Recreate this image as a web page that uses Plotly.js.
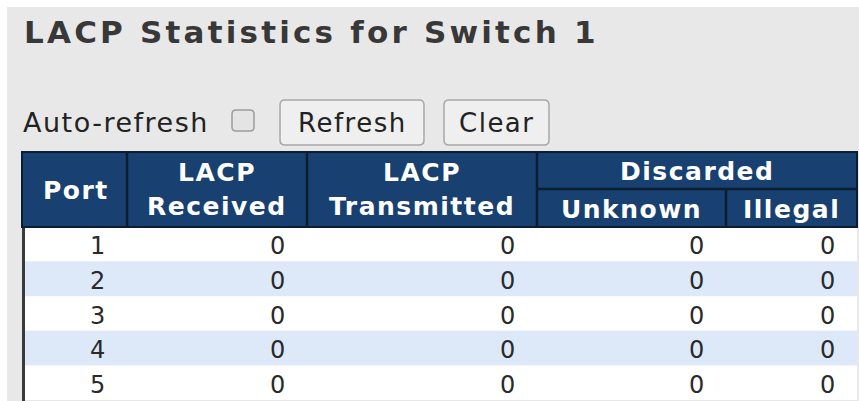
<!DOCTYPE html>
<html>
<head>
<meta charset="utf-8">
<script src="https://cdn.plot.ly/plotly-3.0.1.min.js"></script>
<style>
html,body{margin:0;padding:0;background:#ffffff;}
#chart{width:859px;height:401px;}
.annotation-text{letter-spacing:1.5px;}
.gtitle{letter-spacing:3.2px;}
</style>
</head>
<body>
<div id="chart"></div>
<script>
// ---- content ----
const pageTitle = "LACP Statistics for Switch 1";
const autoRefreshLabel = "Auto-refresh";
const buttonLabels = ["Refresh", "Clear"];
const groupHeader = "Discarded";
const headerTop = ["", "LACP", "LACP", "", ""];
const headerBottom = ["Port", "Received", "Transmitted", "Unknown", "Illegal"];

const ports = [1, 2, 3, 4, 5];
const lacpReceived = [0, 0, 0, 0, 0];
const lacpTransmitted = [0, 0, 0, 0, 0];
const discardedUnknown = [0, 0, 0, 0, 0];
const discardedIllegal = [0, 0, 0, 0, 0];

// ---- geometry / style (pixel-space axes) ----
const W = 859, H = 401;
const colEdges = [25, 127, 307, 537, 726, 857];
const tableLeft = 22;
const hTop = 152, hMid = 189, hBot = 227;
const rowH = 34.6;
const navy = "#184070", divider = "#0c1c31";
const rowFills = ["#ffffff", "#dde9f9"];
const fontSans = "DejaVu Sans, Verdana, sans-serif";

function rr(x0, y0, x1, y1, r) {
  return `M${x0 + r},${y0} L${x1 - r},${y0} Q${x1},${y0} ${x1},${y0 + r} L${x1},${y1 - r} Q${x1},${y1} ${x1 - r},${y1} L${x0 + r},${y1} Q${x0},${y1} ${x0},${y1 - r} L${x0},${y0 + r} Q${x0},${y0} ${x0 + r},${y0} Z`;
}

const shapes = [];
const annotations = [];

// page background
shapes.push({type: "rect", xref: "x", yref: "y", x0: 7, x1: W, y0: 7, y1: H,
  fillcolor: "#e8e8e8", line: {width: 0}, layer: "below"});

// checkbox
shapes.push({type: "path", xref: "x", yref: "y", path: rr(232, 110, 254, 131, 4),
  fillcolor: "#e4e4e4", line: {color: "#9c9c9c", width: 1.5}});

// buttons
const buttonBoxes = [[280, 424], [444, 549]];
buttonLabels.forEach((lab, i) => {
  const [bx0, bx1] = buttonBoxes[i];
  shapes.push({type: "path", xref: "x", yref: "y", path: rr(bx0, 100, bx1, 145, 5),
    fillcolor: "#efefef", line: {color: "#a8a8a8", width: 1.5}});
  annotations.push({xref: "x", yref: "y", x: (bx0 + bx1) / 2, y: 123, text: lab,
    showarrow: false, xanchor: "center", yanchor: "middle",
    font: {family: fontSans, size: 26, color: "#222222"}});
});

annotations.push({xref: "x", yref: "y", x: 21, y: 122, text: autoRefreshLabel,
  showarrow: false, xanchor: "left", yanchor: "middle",
  font: {family: fontSans, size: 27, color: "#222222"}});

// body rows
const columns = [ports, lacpReceived, lacpTransmitted, discardedUnknown, discardedIllegal];
ports.forEach((p, r) => {
  const y0 = hBot + r * rowH, y1 = y0 + rowH;
  shapes.push({type: "rect", xref: "x", yref: "y", x0: colEdges[0], x1: colEdges[colEdges.length - 1],
    y0: y0, y1: y1, fillcolor: rowFills[r % 2], line: {width: 0}});
  columns.forEach((col, c) => {
    annotations.push({xref: "x", yref: "y", x: colEdges[c + 1] - 18, y: (y0 + y1) / 2 + 2,
      text: String(col[r]), showarrow: false, xanchor: "right", yanchor: "middle",
      font: {family: fontSans, size: 24, color: "#2a2a2a"}});
  });
});

// left border of table
shapes.push({type: "rect", xref: "x", yref: "y", x0: tableLeft, x1: colEdges[0], y0: hTop, y1: H,
  fillcolor: "#3a3a3a", line: {width: 0}});

// header block
shapes.push({type: "rect", xref: "x", yref: "y", x0: tableLeft, x1: colEdges[colEdges.length - 1],
  y0: hTop, y1: hBot, fillcolor: navy, line: {color: divider, width: 2}});
// vertical dividers
[1, 2, 3].forEach(i => {
  shapes.push({type: "line", xref: "x", yref: "y", x0: colEdges[i], x1: colEdges[i], y0: hTop, y1: hBot,
    line: {color: divider, width: 2.5}});
});
shapes.push({type: "line", xref: "x", yref: "y", x0: colEdges[4], x1: colEdges[4], y0: hMid, y1: hBot,
  line: {color: divider, width: 2.5}});
shapes.push({type: "line", xref: "x", yref: "y", x0: colEdges[3], x1: colEdges[5], y0: hMid, y1: hMid,
  line: {color: divider, width: 2.5}});

const hFont = {family: fontSans, size: 25, color: "#ffffff", weight: "bold"};
const colCenter = i => (colEdges[i] + colEdges[i + 1]) / 2;
// Port (spans both header rows)
annotations.push({xref: "x", yref: "y", x: (tableLeft + colEdges[1]) / 2 + 1, y: 190, text: headerBottom[0],
  showarrow: false, xanchor: "center", yanchor: "middle", font: hFont});
[1, 2].forEach(i => {
  annotations.push({xref: "x", yref: "y", x: colCenter(i), y: 172, text: headerTop[i],
    showarrow: false, xanchor: "center", yanchor: "middle", font: hFont});
  annotations.push({xref: "x", yref: "y", x: colCenter(i), y: 206, text: headerBottom[i],
    showarrow: false, xanchor: "center", yanchor: "middle", font: hFont});
});
annotations.push({xref: "x", yref: "y", x: (colEdges[3] + colEdges[5]) / 2, y: 171, text: groupHeader,
  showarrow: false, xanchor: "center", yanchor: "middle", font: hFont});
[3, 4].forEach(i => {
  annotations.push({xref: "x", yref: "y", x: colCenter(i), y: 209, text: headerBottom[i],
    showarrow: false, xanchor: "center", yanchor: "middle", font: hFont});
});

const layout = {
  width: W, height: H,
  margin: {l: 0, r: 0, t: 0, b: 0, pad: 0},
  paper_bgcolor: "#ffffff", plot_bgcolor: "rgba(0,0,0,0)",
  showlegend: false,
  title: {text: pageTitle, x: 24 / W, xanchor: "left", xref: "container",
    y: 1 - 32 / H, yanchor: "middle", yref: "container",
    font: {family: "DejaVu Sans, Verdana, sans-serif", size: 31, color: "#383838", weight: "bold"}},
  xaxis: {range: [0, W], visible: false, fixedrange: true},
  yaxis: {range: [H, 0], visible: false, fixedrange: true},
  shapes: shapes,
  annotations: annotations
};

Plotly.newPlot("chart", [{type: "scatter", x: [], y: [], mode: "markers", hoverinfo: "skip", showlegend: false}],
  layout, {displayModeBar: false, staticPlot: true});
</script>
</body>
</html>
